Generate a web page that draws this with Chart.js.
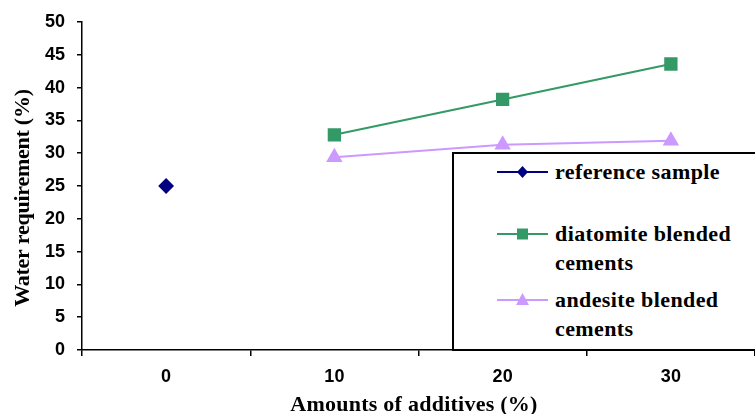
<!DOCTYPE html>
<html>
<head>
<meta charset="utf-8">
<script src="https://cdn.jsdelivr.net/npm/chart.js@4/dist/chart.umd.min.js"></script>
<style>
  html, body { margin: 0; padding: 0; background: #fff; }
  #wrap { position: relative; width: 755px; height: 414px; overflow: hidden; }
  #legend {
    position: absolute; left: 452px; top: 152px; width: 320px; height: 199px;
    border: 2px solid #000; background: #fff; box-sizing: border-box;
    font-family: "Liberation Serif", "Times New Roman", serif; font-weight: bold;
    font-size: 22px; letter-spacing: 0.4px; color: #000;
  }
  .mk { position: absolute; }
  .txt { position: absolute; left: 101px; width: 220px; line-height: 29px; white-space: pre; }
</style>
</head>
<body>
<div id="wrap">
  <canvas id="c" width="755" height="414"></canvas>
  <div id="legend"></div>
</div>
<script>
const categories = ["0", "10", "20", "30"];
const referenceSample = [25, null, null, null];
const diatomiteBlended = [null, 32.8, 38.2, 43.6];
const andesiteBlended = [null, 29.4, 31.3, 31.9];
const yTicks = [0, 5, 10, 15, 20, 25, 30, 35, 40, 45, 50];
const seriesNames = ["reference sample", "diatomite blended\ncements", "andesite blended\ncements"];
const xTitle = "Amounts of additives (%)";
const yTitle = "Water requirement (%)";

const datasets = [
  { label: seriesNames[0], data: referenceSample, borderColor: "#000080", backgroundColor: "#000080",
    pointStyle: "rectRot", pointRadius: 6.5, borderWidth: 2 },
  { label: seriesNames[1], data: diatomiteBlended, borderColor: "#339966", backgroundColor: "#339966",
    pointStyle: "rect", pointRadius: 8, borderWidth: 2 },
  { label: seriesNames[2], data: andesiteBlended, borderColor: "#CC99FF", backgroundColor: "#CC99FF",
    pointStyle: "triangle", pointRadius: 7.5, borderWidth: 2 }
];

const titlePlugin = {
  id: "axisTitles",
  afterDraw(chart) {
    const ctx = chart.ctx;
    ctx.save();
    ctx.fillStyle = "#000";
    ctx.font = "bold 22px 'Liberation Serif'";
    ctx.textAlign = "center";
    ctx.textBaseline = "alphabetic";
    ctx.letterSpacing = "0.25px";
    ctx.fillText(xTitle, 414, 411);
    ctx.restore();
    ctx.save();
    ctx.fillStyle = "#000";
    ctx.font = "bold 22px 'Liberation Serif'";
    ctx.textAlign = "center";
    ctx.textBaseline = "alphabetic";
    ctx.letterSpacing = "-0.25px";
    ctx.translate(28.5, 198);
    ctx.rotate(-Math.PI / 2);
    ctx.fillText(yTitle, 0, 0);
    ctx.restore();
  }
};

const chart = new Chart(document.getElementById("c"), {
  type: "line",
  data: { labels: categories, datasets },
  plugins: [titlePlugin],
  options: {
    responsive: false, animation: false, devicePixelRatio: 1,
    layout: { autoPadding: false, padding: { top: 22, right: 0, left: 0, bottom: 0 } },
    plugins: { legend: { display: false }, tooltip: { enabled: false } },
    elements: { line: { tension: 0 }, point: { borderWidth: 0 } },
    scales: {
      x: {
        type: "category", offset: true,
        grid: { offset: true, drawOnChartArea: false, drawTicks: true, tickLength: 6, color: "#000", lineWidth: 1.5 },
        border: { display: true, color: "#000", width: 1.5 },
        ticks: { color: "#000", font: { family: "Liberation Sans", weight: "bold", size: 18 }, padding: 10, maxRotation: 0 },
        afterFit: s => { s.height = 64; s.paddingLeft = 0; s.paddingRight = 0; }
      },
      y: {
        min: 0, max: 50,
        afterBuildTicks: s => { s.ticks = yTicks.map(v => ({ value: v })); },
        grid: { drawOnChartArea: false, drawTicks: true, tickLength: 5, color: "#000", lineWidth: 1.5 },
        border: { display: true, color: "#000", width: 1.5 },
        ticks: { color: "#000", font: { family: "Liberation Sans", weight: "bold", size: 18 }, padding: 12 },
        afterFit: s => { s.width = 82; s.paddingTop = 0; s.paddingBottom = 0; }
      }
    }
  }
});

// HTML legend built from the datasets (origin = inside of the border at 454,154)
const legendEl = document.getElementById("legend");
const textTops = [3, 65, 131];
const markerYs = [18, 80, 146];
datasets.forEach((ds, i) => {
  const cv = document.createElement("canvas");
  cv.className = "mk";
  cv.width = 52; cv.height = 28;
  cv.style.left = "43px"; cv.style.top = (markerYs[i] - 14) + "px";
  const g = cv.getContext("2d");
  g.strokeStyle = ds.borderColor; g.lineWidth = 2;
  g.beginPath(); g.moveTo(0, 14); g.lineTo(51, 14); g.stroke();
  g.fillStyle = ds.backgroundColor;
  const cx = 25.5, cy = 14;
  g.beginPath();
  if (ds.pointStyle === "rectRot") { g.moveTo(cx, cy - 6); g.lineTo(cx + 5.5, cy); g.lineTo(cx, cy + 6); g.lineTo(cx - 5.5, cy); }
  else if (ds.pointStyle === "rect") { g.rect(cx - 5.5, cy - 5.5, 11, 11); }
  else { g.moveTo(cx, cy - 7); g.lineTo(cx + 6.5, cy + 5); g.lineTo(cx - 6.5, cy + 5); }
  g.closePath(); g.fill();
  const t = document.createElement("div");
  t.className = "txt"; t.textContent = ds.label;
  t.style.top = textTops[i] + "px";
  legendEl.appendChild(cv); legendEl.appendChild(t);
});
</script>
</body>
</html>
